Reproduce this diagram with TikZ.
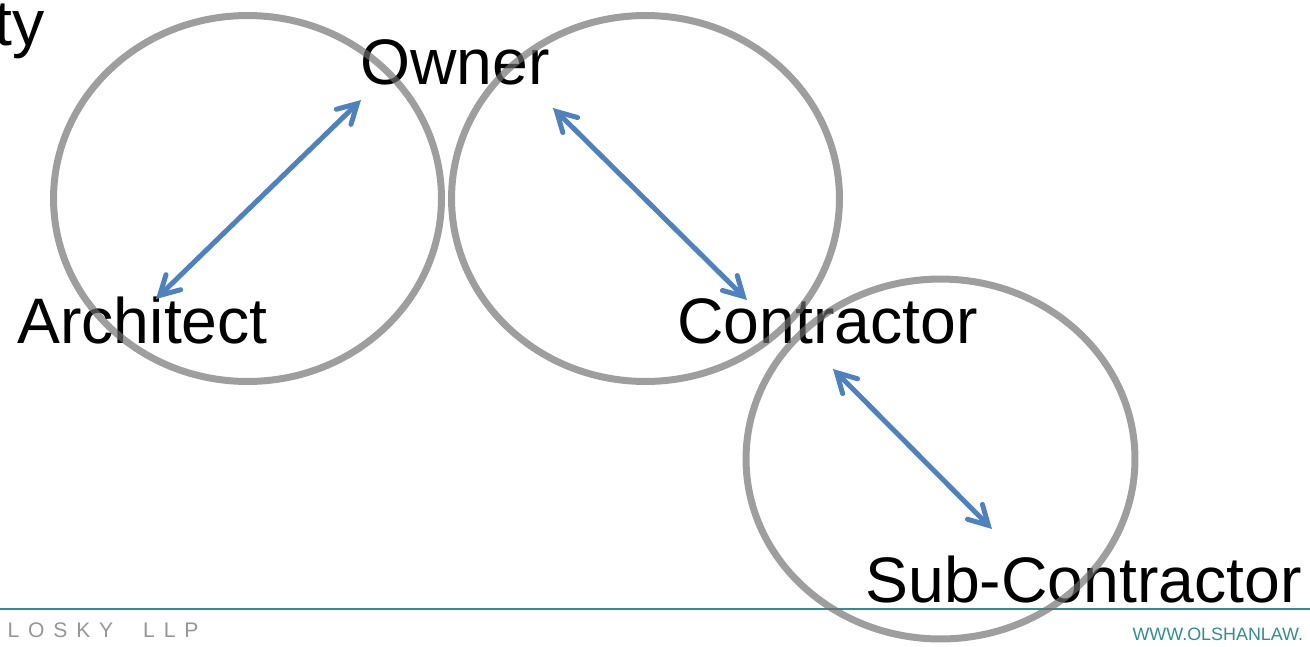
\documentclass[tikz,border=0pt]{standalone}
\usepackage{fontspec}
\setmainfont{Liberation Sans}
\usetikzlibrary{arrows.meta}
\definecolor{linkblue}{RGB}{79,129,189}
\definecolor{ringgray}{RGB}{112,112,112}
\definecolor{footteal}{RGB}{52,140,145}
\definecolor{footgray}{RGB}{150,150,150}

\begin{document}
\begin{tikzpicture}[
                    x = 0.02cm, y = -0.02cm, % one unit per pixel
                    > = {Straight Barb[length=3.8mm, width=4.2mm, line cap=round]},
                    semithick % line style
            ]

            \tikzstyle{party}=[
                inner sep = 0pt,
                anchor = base west,
                font = \fontsize{36.6}{44}\selectfont
            ]
            \tikzstyle{ring}=[
                draw = ringgray,
                draw opacity = 0.68,
                line width = 0.14cm
            ]
            \tikzstyle{link}=[
                <->,
                draw = linkblue,
                line width = 0.1cm,
                line cap = round
            ]

            \useasboundingbox (0,0) rectangle (1310,646);

            % parties
            \node[party, anchor=base east] (title) at (45,45) {ty};
            \node[party] (owner) at (360,84) {Owner};
            \node[party] (architect) at (17,343) {Architect};
            \node[party] (contractor) at (677,343) {Contractor};
            \node[party] (sub) at (865,602) {Sub-Contractor};

            % footer
            \coordinate (ruleW) at (0,609);
            \coordinate (ruleE) at (1310,609);
            \draw[footteal, line width=0.04cm] (ruleW) -- (ruleE);
            \node[inner sep=0pt, anchor=base west, text=footgray, font=\fontsize{12}{14}\selectfont] (firm) at (7,637)
                {\addfontfeature{LetterSpace=42}LOSKY\hspace{0.6cm}LLP};
            \node[inner sep=0pt, anchor=base west, text=footteal, font=\fontsize{10.2}{12}\selectfont] (web) at (1132,640)
                {WWW.OLSHANLAW.};

            % circles
            \draw[ring] (247.5,198.5) ellipse [x radius=3.88cm, y radius=3.66cm];
            \draw[ring] (645.5,198.5) ellipse [x radius=3.88cm, y radius=3.66cm];
            \draw[ring] (940.5,459) ellipse [x radius=3.89cm, y radius=3.6cm];

            % links
            \coordinate (ownerSW) at (361,100);
            \coordinate (architectN) at (156,299);
            \coordinate (ownerSE) at (553,108);
            \coordinate (contractorN) at (747,300);
            \coordinate (contractorS) at (833,369);
            \coordinate (subN) at (992,529);

            \draw[link] (ownerSW) -- (architectN);
            \draw[link] (ownerSE) -- (contractorN);
            \draw[link] (contractorS) -- (subN);
        \end{tikzpicture}
\end{document}
